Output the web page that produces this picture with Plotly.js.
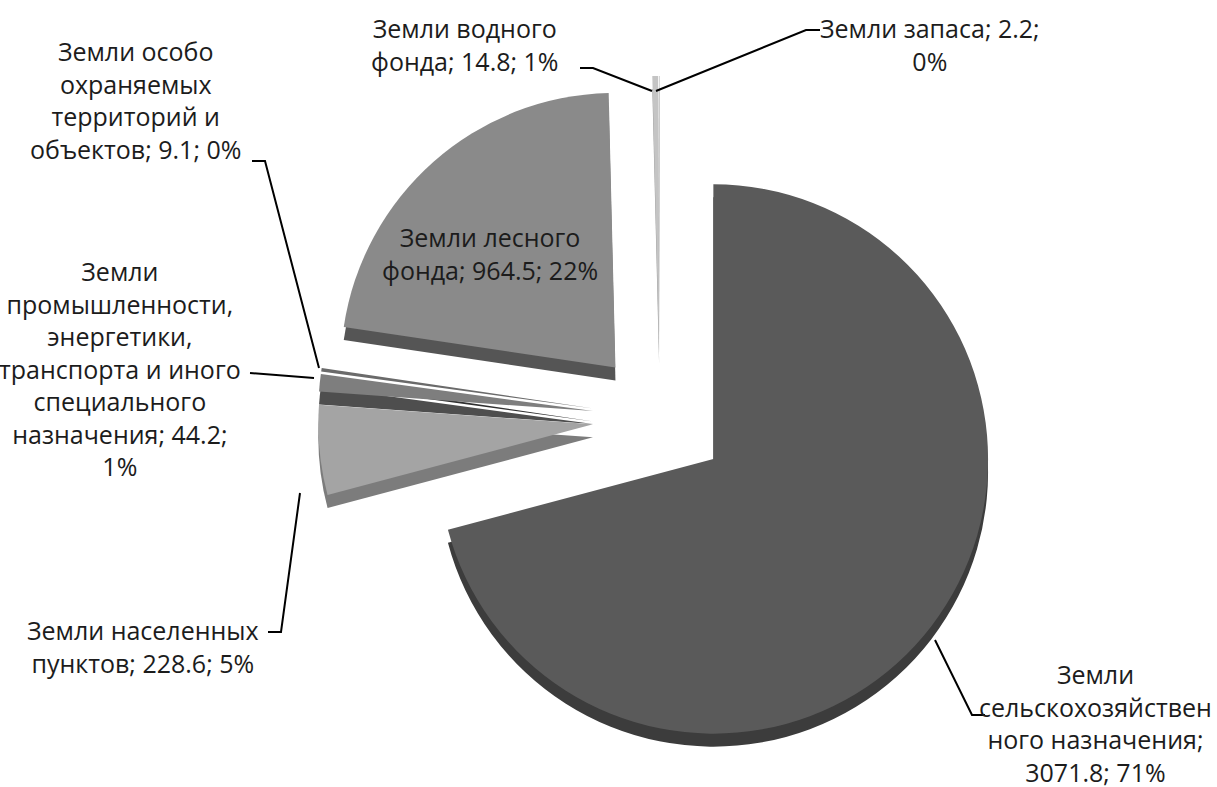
<!DOCTYPE html>
<html>
<head>
<meta charset="utf-8">
<script src="https://cdn.plot.ly/plotly-3.0.1.min.js"></script>
<style>html,body{margin:0;padding:0;background:#fff;}#chart{width:1217px;height:787px;}</style>
</head>
<body>
<div id="chart"></div>
<script>
// ---- data ----
const categories = [
  'Земли сельскохозяйственного назначения',
  'Земли населенных пунктов',
  'Земли промышленности, энергетики, транспорта и иного специального назначения',
  'Земли особо охраняемых территорий и объектов',
  'Земли лесного фонда',
  'Земли водного фонда',
  'Земли запаса'
];
const values = [3071.8, 228.6, 44.2, 9.1, 964.5, 14.8, 2.2];
const percents = [71, 5, 1, 0, 22, 1, 0];
// label text as wrapped in the picture ({v} = value, {p} = percent)
const wrappedLabels = [
  'Земли<br>сельскохозяйствен<br>ного назначения;<br>{v}; {p}',
  'Земли населенных<br>пунктов; {v}; {p}',
  'Земли<br>промышленности,<br>энергетики,<br>транспорта и иного<br>специального<br>назначения; {v};<br>{p}',
  'Земли особо<br>охраняемых<br>территорий и<br>объектов; {v}; {p}',
  'Земли лесного<br>фонда; {v}; {p}',
  'Земли водного<br>фонда; {v}; {p}',
  'Земли запаса; {v};<br>{p}'
];

// ---- styling ----
const topColors  = ['#5a5a5a', '#a4a4a4', '#7e7e7e', '#6a6a6a', '#8a8a8a', '#c4c4c4', '#d0d0d0'];
const sideColors = ['#3c3c3c', '#7c7c7c', '#4e4e4e', '#303030', '#555555', '#9a9a9a', '#a8a8a8'];
const pulls = values.map(() => 0.245);

const W = 1217, H = 787;
const px = (x) => x / W;
const py = (y) => 1 - y / H;

const dom = {x: [px(318), px(1002)], y: [py(760), py(76)]};
const shift = 13 / H;

const common = {
  type: 'pie',
  labels: categories,
  values: values,
  sort: false,
  direction: 'clockwise',
  rotation: 0,
  pull: pulls,
  textinfo: 'none',
  hoverinfo: 'label+value',
  showlegend: false
};

const sideTrace = Object.assign({}, common, {
  domain: {x: dom.x, y: [dom.y[0] - shift, dom.y[1] - shift]},
  marker: {colors: sideColors, line: {width: 0}}
});
const faceTrace = Object.assign({}, common, {
  domain: dom,
  marker: {colors: topColors, line: {width: 0}}
});

// label positions (pixel centres) and leader paths
const labelPos = [
  [1095, 723], [143, 646], [120, 368], [135, 100], [490, 253], [465, 45], [930, 45]
];
const leaders = [
  [[935, 640], [972, 715], [985, 715]],
  [[268, 632], [281, 632], [300, 493]],
  [[250, 373], [314, 378]],
  [[252, 161], [265, 161], [319, 368]],
  null,
  [[580, 68], [593, 68], [652, 91]],
  [[820, 30], [806, 30], [656, 91]]
];

const annotations = categories.map((c, i) => ({
  xref: 'paper', yref: 'paper',
  x: px(labelPos[i][0]), y: py(labelPos[i][1]),
  xanchor: 'center', yanchor: 'middle',
  showarrow: false,
  text: wrappedLabels[i].replace('{v}', values[i].toFixed(1)).replace('{p}', percents[i] + '%'),
  font: {family: 'Open Sans, sans-serif', size: 25, color: '#1c1c1c'},
  align: 'center'
}));

const shapes = leaders.filter(l => l).map(pts => ({
  type: 'path', xref: 'paper', yref: 'paper',
  path: pts.map((p, k) => (k ? 'L ' : 'M ') + px(p[0]) + ' ' + py(p[1])).join(' '),
  line: {color: '#000000', width: 2}
}));

const layout = {
  width: W, height: H,
  margin: {l: 0, r: 0, t: 0, b: 0},
  paper_bgcolor: '#ffffff',
  plot_bgcolor: '#ffffff',
  showlegend: false,
  annotations: annotations,
  shapes: shapes
};

Plotly.newPlot('chart', [sideTrace, faceTrace], layout, {displayModeBar: false, staticPlot: true});
</script>
</body>
</html>
